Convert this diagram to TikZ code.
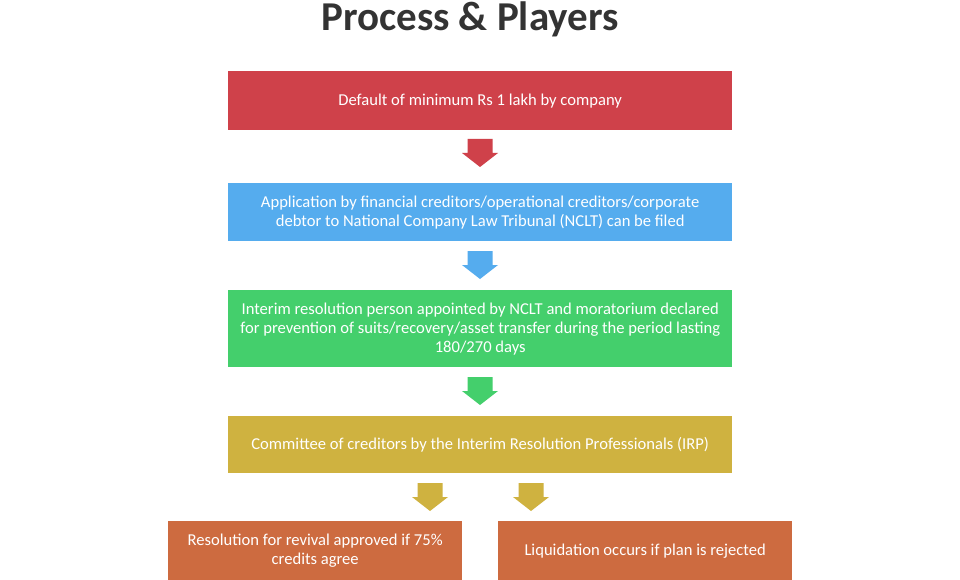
\documentclass[tikz,border=0pt]{standalone}
\usepackage{fontspec}
\setmainfont{Carlito}
\usetikzlibrary{calc}
\definecolor{cred}{HTML}{CF414A}
\definecolor{cblue}{HTML}{55ACEE}
\definecolor{cgreen}{HTML}{44CF6C}
\definecolor{cgold}{HTML}{CFB240}
\definecolor{corange}{HTML}{CD6B40}
\definecolor{ctitle}{HTML}{333333}
\newcommand\blockarr[3]{% x, ytop, colour
  \fill[#3] (#1-12.5,#2) -- (#1+12.5,#2) -- (#1+12.5,#2+14) -- (#1+18,#2+14) -- (#1,#2+28) -- (#1-18,#2+14) -- (#1-12.5,#2+14) -- cycle;}
\begin{document}
\begin{tikzpicture}[x=1pt,y=-1pt,
  box/.style={anchor=north west,inner sep=0pt,text=white,align=center,font=\fontsize{16.6}{19}\selectfont}]
\useasboundingbox[fill=white] (0,0) rectangle (960,580);
\node[font=\bfseries\fontsize{41}{44}\selectfont,text=ctitle] (title) at (470,19) {Process \& Players};
\node[box,fill=cred,minimum width=504pt,minimum height=59pt] (b1) at (228,71) {Default of minimum Rs 1 lakh by company};
\node[box,fill=cblue,minimum width=504pt,minimum height=58pt] (b2) at (228,183) {Application by financial creditors/operational creditors/corporate\\debtor to National Company Law Tribunal (NCLT) can be filed};
\node[box,fill=cgreen,minimum width=504pt,minimum height=77pt] (b3) at (228,290) {Interim resolution person appointed by NCLT and moratorium declared\\for prevention of suits/recovery/asset transfer during the period lasting\\180/270 days};
\node[box,fill=cgold,minimum width=504pt,minimum height=57pt] (b4) at (228,416) {Committee of creditors by the Interim Resolution Professionals (IRP)};
\node[box,fill=corange,minimum width=294pt,minimum height=59pt] (b5) at (168,521) {Resolution for revival approved if 75\%\\credits agree};
\node[box,fill=corange,minimum width=294pt,minimum height=59pt] (b6) at (498,521) {Liquidation occurs if plan is rejected};
\blockarr{480}{139}{cred}
\blockarr{480}{251}{cblue}
\blockarr{480}{377}{cgreen}
\blockarr{430}{483}{cgold}
\blockarr{531}{483}{cgold}
\end{tikzpicture}
\end{document}
